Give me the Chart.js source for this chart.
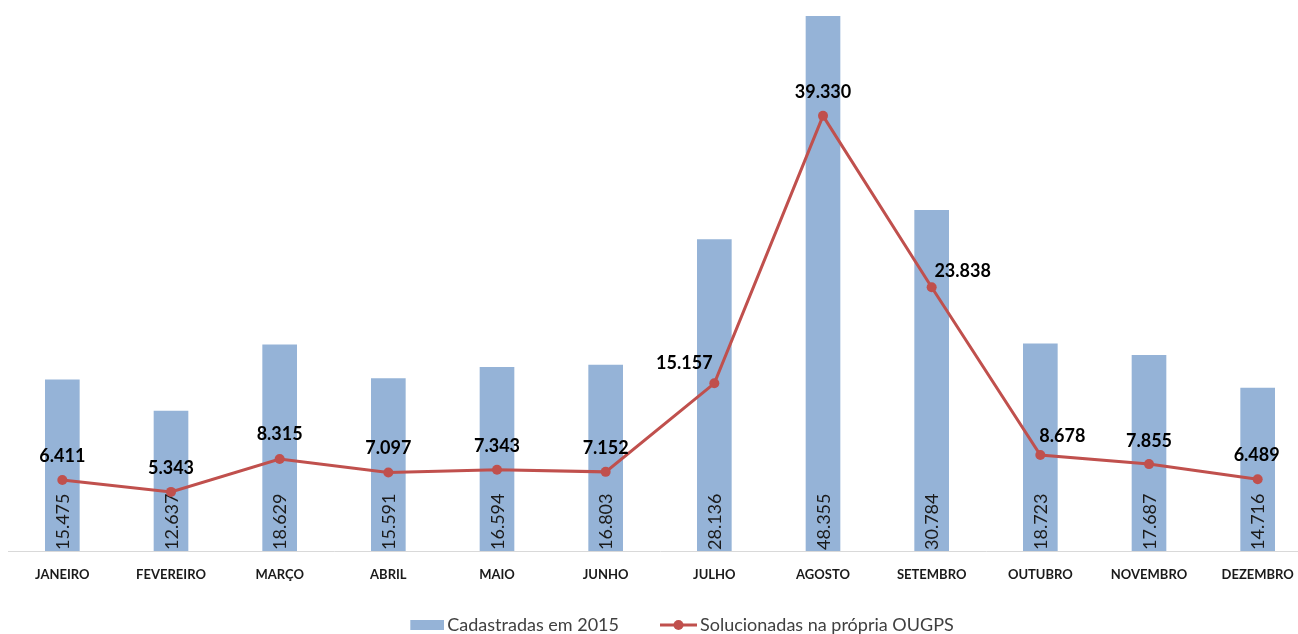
<!DOCTYPE html>
<html>
<head>
<meta charset="UTF-8">
<title>Cadastradas x Solucionadas 2015</title>
<script src="https://cdn.jsdelivr.net/npm/chart.js@4.4.0/dist/chart.umd.min.js"></script>
<style>
html, body { margin: 0; padding: 0; background: #fff; overflow: hidden; }
</style>
</head>
<body>

<canvas id="myChart" width="1352" height="644"></canvas>
<script>
var meses = ['JANEIRO', 'FEVEREIRO', 'MARÇO', 'ABRIL', 'MAIO', 'JUNHO', 'JULHO', 'AGOSTO', 'SETEMBRO', 'OUTUBRO', 'NOVEMBRO', 'DEZEMBRO'];
var cadastradas = [15475, 12637, 18629, 15591, 16594, 16803, 28136, 48355, 30784, 18723, 17687, 14716];
var solucionadas = [6411, 5343, 8315, 7097, 7343, 7152, 15157, 39330, 23838, 8678, 7855, 6489];
var nomeBarra = 'Cadastradas em 2015';
var nomeLinha = 'Solucionadas na própria OUGPS';
var eixoMax = 48355;

var corBarra = '#95B3D7';
var corLinha = '#C0504D';
var fonte = 'Lato, "Open Sans", sans-serif';

// rótulos da linha arrastados à mão no Excel (deslocamento em px)
var rotuloDx = [0, 0, 0, 0, 0, 0, -30, 0, 31, 22, 0, -1];
var rotuloDy = [-24, -24, -25, -24, -24, -24, -20, -24, -16, -19, -23, -24];

function fmt(n) {
	return String(n).replace(/\B(?=(\d{3})+(?!\d))/g, '.');
}

// figurinhas da legenda (caixa azul e linha com bolinha)
function iconeBarra() {
	var c = document.createElement('canvas');
	c.width = 52; c.height = 12;
	var g = c.getContext('2d');
	g.fillStyle = corBarra;
	g.fillRect(18, 1, 34, 10);
	return c;
}
function iconeLinha() {
	var c = document.createElement('canvas');
	c.width = 52; c.height = 12;
	var g = c.getContext('2d');
	g.strokeStyle = corLinha;
	g.lineWidth = 3;
	g.beginPath(); g.moveTo(15, 6); g.lineTo(52, 6); g.stroke();
	g.fillStyle = corLinha;
	g.beginPath(); g.arc(33.5, 6, 5, 0, Math.PI * 2); g.fill();
	return c;
}

var rotulos = {
	id: 'rotulos',
	afterDatasetDraw: function(chart, args) {
		var ctx = chart.ctx;
		var meta = args.meta;
		ctx.save();
		if (args.index == 0) {
			// valores das barras, na vertical, dentro da coluna
			ctx.font = '18px ' + fonte;
			ctx.fillStyle = '#1a1a1a';
			ctx.textAlign = 'left';
			ctx.textBaseline = 'middle';
			meta.data.forEach(function(bar, i) {
				ctx.save();
				ctx.translate(bar.x + 1, bar.base - 1);
				ctx.rotate(-Math.PI / 2);
				ctx.fillText(fmt(cadastradas[i]), 0, 0);
				ctx.restore();
			});
		} else {
			ctx.font = 'bold 18px ' + fonte;
			ctx.fillStyle = '#000';
			ctx.textAlign = 'center';
			ctx.textBaseline = 'middle';
			meta.data.forEach(function(pt, i) {
				ctx.fillText(fmt(solucionadas[i]), pt.x + rotuloDx[i], pt.y + rotuloDy[i]);
			});
		}
		ctx.restore();
	}
};

var ctx = document.getElementById('myChart').getContext('2d');
var myChart = new Chart(ctx, {
	type: 'bar',
	data: {
		labels: meses,
		datasets: [{
			type: 'bar',
			label: nomeBarra,
			data: cadastradas,
			backgroundColor: corBarra,
			barThickness: 34,
			order: 2
		}, {
			type: 'line',
			label: nomeLinha,
			data: solucionadas,
			borderColor: corLinha,
			backgroundColor: corLinha,
			borderWidth: 3,
			pointRadius: 5,
			pointBorderWidth: 0,
			pointBackgroundColor: corLinha,
			tension: 0,
			order: 1
		}]
	},
	options: {
		responsive: false,
		animation: false,
		devicePixelRatio: 1,
		layout: { padding: { top: 16 } },
		plugins: {
			tooltip: { enabled: false },
			legend: {
				position: 'bottom',
				labels: {
					usePointStyle: true,
					pointStyleWidth: 40,
					padding: 32,
					color: '#404040',
					font: { family: fonte, size: 18 },
					generateLabels: function(chart) {
						return [
							{ text: nomeBarra, pointStyle: iconeBarra(), datasetIndex: 0, lineWidth: 0, fontColor: '#404040' },
							{ text: nomeLinha, pointStyle: iconeLinha(), datasetIndex: 1, lineWidth: 0, fontColor: '#404040' }
						];
					}
				}
			}
		},
		scales: {
			x: {
				offset: true,
				grid: { display: false, drawTicks: false },
				border: { display: true, color: '#D9D9D9', width: 1 },
				ticks: {
					padding: 16,
					autoSkip: false,
					maxRotation: 0,
					color: '#1a1a1a',
					font: { family: fonte, size: 13, weight: 'bold' }
				},
				afterFit: function(s) { s.height = 33; }
			},
			y: {
				min: 0,
				max: eixoMax,
				ticks: { display: false },
				grid: { display: false },
				border: { display: false },
				afterFit: function(s) { s.width = 8; }
			},
			folga: {
				type: 'linear',
				position: 'right',
				ticks: { display: false },
				grid: { display: false },
				border: { display: false },
				afterFit: function(s) { s.width = 40; }
			}
		}
	},
	plugins: [rotulos]
});
</script>

</body>
</html>
